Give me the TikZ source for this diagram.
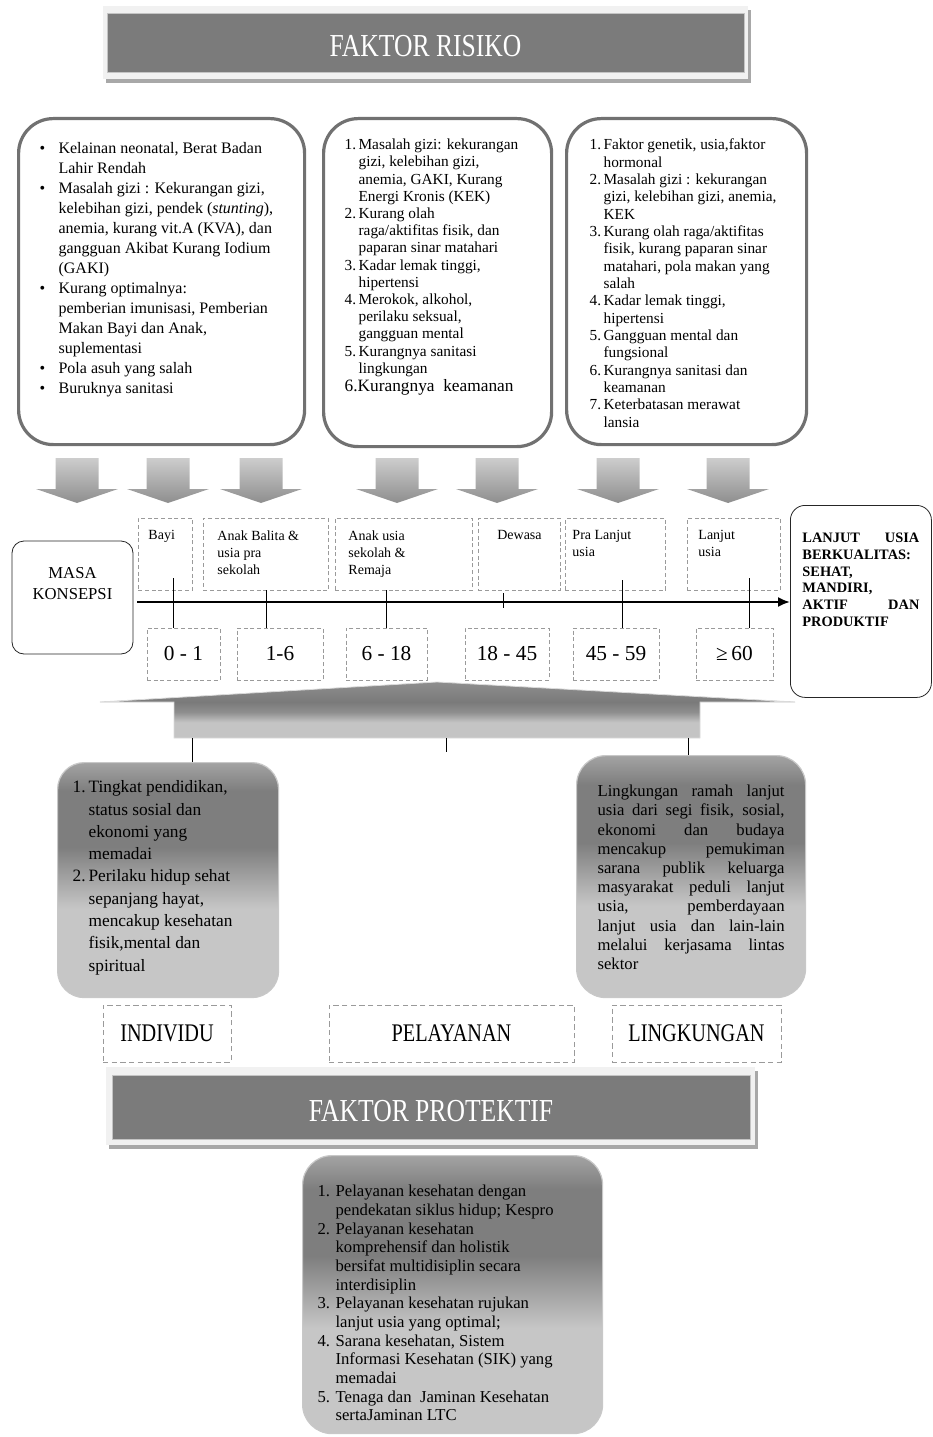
\documentclass[tikz,border=0pt]{standalone}
\usepackage{fontspec}
\setmainfont{Liberation Serif}
\newfontfamily\condfont[FakeStretch=0.8]{Liberation Serif}
\usetikzlibrary{arrows.meta}

\definecolor{titlegray}{HTML}{7B7B7B}
\definecolor{titlerim}{HTML}{C4C4C4}
\definecolor{framegray}{HTML}{F1F1F1}
\definecolor{shadowgray}{HTML}{A8A8A8}
\definecolor{riskline}{HTML}{717171}
\definecolor{dashgray}{HTML}{9A9A9A}
\definecolor{rimgray}{HTML}{C8C8C8}
\definecolor{shL}{HTML}{C6C6C6}
\definecolor{shD}{HTML}{7E7E7E}
\definecolor{shT}{HTML}{A3A3A3}
\definecolor{upL}{HTML}{C4C4C4}
\definecolor{upM}{HTML}{8F8F8F}
\definecolor{upD}{HTML}{7A7A7A}
\definecolor{upT}{HTML}{8E8E8E}
\definecolor{upedge}{HTML}{DADADA}
\definecolor{arrtop}{HTML}{CDCDCD}
\definecolor{arrbot}{HTML}{8E8E8E}

\pgfdeclareverticalshading{boxshade}{100bp}{color(0bp)=(shL); color(25bp)=(shL); color(44bp)=(shL); color(57bp)=(shD); color(69bp)=(shD); color(75bp)=(shT); color(100bp)=(shT)}
\pgfdeclareverticalshading{upshade}{100bp}{color(0bp)=(upL); color(25bp)=(upL); color(39bp)=(upL); color(48bp)=(upM); color(57bp)=(upD); color(75bp)=(upT); color(100bp)=(upT)}

\setlength{\parskip}{0pt}
\newlength{\itmind}
\newcommand{\itm}[2]{\par\noindent\hangindent=\itmind\hangafter=1\makebox[\itmind][l]{#1}#2\par}
\newcommand{\jline}[1]{\makebox[\linewidth][s]{#1}\par}

\tikzstyle{riskbox} = [rectangle, rounded corners=26pt, draw=riskline, line width=2.4pt, fill=white, anchor=north west, inner ysep=0pt]
\tikzstyle{stagebox} = [rectangle, draw=dashgray, dash pattern=on 3pt off 2pt, line width=0.7pt, anchor=north west, inner ysep=0pt, font=\fontsize{10.5}{12.75}\selectfont]
\tikzstyle{agebox} = [rectangle, draw=dashgray, dash pattern=on 3pt off 2pt, line width=0.7pt, minimum height=39pt, inner sep=0pt, font=\fontsize{16}{18}\selectfont]
\tikzstyle{labelbox} = [rectangle, draw=dashgray, dash pattern=on 4pt off 2.5pt, line width=0.7pt, minimum height=42.75pt, inner sep=0pt, font=\condfont\fontsize{19}{21}\selectfont]
\tikzstyle{shadebox} = [rectangle, shade, shading=boxshade, draw=rimgray, line width=0.9pt, anchor=north west, inner ysep=0pt]
\tikzstyle{titlebar} = [rectangle, fill=titlegray, draw=titlerim, line width=0.6pt, text=white, inner sep=0pt, text height=21pt, text depth=0pt, font=\condfont\fontsize{24}{26}\selectfont]
\tikzstyle{endbox} = [rectangle, rounded corners=9pt, draw=black!85, line width=0.6pt]
\tikzstyle{tickline} = [black, line width=0.75pt]
\tikzstyle{timeline} = [black, line width=1.5pt, -{Latex[length=9pt,width=7.5pt]}]

\begin{document}
\begin{tikzpicture}[x=0.75pt, y=-0.75pt]
\useasboundingbox (0,0) rectangle (932,1437);

% faktor risiko
\fill[shadowgray] (106,10) rectangle (751,83);
\fill[framegray] (103,6) rectangle (748,79);
\node[titlebar, minimum width=477.75pt, minimum height=44.25pt] (risiko) at (425.5,42.5) {FAKTOR RISIKO};

\node[riskbox, inner xsep=15.75pt, font=\fontsize{12}{15}\selectfont] (risk1) at (17,117) {\parbox[t][244.5pt][t]{183pt}{\vspace*{18pt}\setlength{\itmind}{14.25pt}%
\itm{\textbullet}{Kelainan neonatal, Berat Badan\\Lahir Rendah}%
\itm{\textbullet}{Masalah gizi : Kekurangan gizi,\\kelebihan gizi, pendek (\textit{stunting}),\\anemia, kurang vit.A (KVA), dan\\gangguan Akibat Kurang Iodium\\(GAKI)}%
\itm{\textbullet}{Kurang optimalnya:\\pemberian imunisasi, Pemberian\\Makan Bayi dan Anak,\\suplementasi}%
\itm{\textbullet}{Pola asuh yang salah}%
\itm{\textbullet}{Buruknya sanitasi}}};

\node[riskbox, inner xsep=15.75pt, font=\fontsize{11.5}{12.9}\selectfont] (risk2) at (322,117) {\parbox[t][246pt][t]{139.5pt}{\vspace*{15.4pt}\setlength{\itmind}{10.5pt}%
\itm{1.}{Masalah gizi: kekurangan\\gizi, kelebihan gizi,\\anemia, GAKI, Kurang\\Energi Kronis (KEK)}%
\itm{2.}{Kurang olah\\raga/aktifitas fisik, dan\\paparan sinar matahari}%
\itm{3.}{Kadar lemak tinggi,\\hipertensi}%
\itm{4.}{Merokok, alkohol,\\perilaku seksual,\\gangguan mental}%
\itm{5.}{Kurangnya sanitasi\\lingkungan}%
{\fontsize{13}{13.5}\selectfont 6.Kurangnya\ \ keamanan\par}}};

\node[riskbox, inner xsep=17.25pt, font=\fontsize{11.5}{13}\selectfont] (risk3) at (565,117) {\parbox[t][244.5pt][t]{145.5pt}{\vspace*{15.4pt}\setlength{\itmind}{10.5pt}%
\itm{1.}{Faktor genetik, usia,faktor\\hormonal}%
\itm{2.}{Masalah gizi : kekurangan\\gizi, kelebihan gizi, anemia,\\KEK}%
\itm{3.}{Kurang olah raga/aktifitas\\fisik, kurang paparan sinar\\matahari, pola makan yang\\salah}%
\itm{4.}{Kadar lemak tinggi,\\hipertensi}%
\itm{5.}{Gangguan mental dan\\fungsional}%
\itm{6.}{Kurangnya sanitasi dan\\keamanan}%
\itm{7.}{Keterbatasan merawat\\lansia}}};

\foreach \ax in {77,168,261,397,497,618,728}
  \shade[top color=arrtop, bottom color=arrbot] (\ax-21.5,458) -- (\ax+21.5,458) -- (\ax+21.5,489) -- (\ax+41,489) -- (\ax,503) -- (\ax-41,489) -- (\ax-21.5,489) -- cycle;

% tahapan usia
\node[stagebox, inner xsep=7.5pt] (bayi) at (138,518) {\parbox[t][54pt][t]{25.5pt}{\vspace*{9pt}Bayi}};
\node[stagebox, inner xsep=10.5pt] (balita) at (203,518) {\parbox[t][54pt][t]{72.75pt}{\vspace*{9pt}Anak Balita \&\\usia pra\\sekolah}};
\node[stagebox, inner xsep=9.75pt] (sekolah) at (335,518) {\parbox[t][54pt][t]{83.25pt}{\vspace*{9pt}Anak usia\\sekolah \&\\Remaja}};
\node[stagebox, inner xsep=11.25pt] (dewasa) at (478,518) {\parbox[t][54pt][t]{39pt}{\vspace*{9pt}\centering Dewasa}};
\node[stagebox, inner xsep=5.25pt] (pralansia) at (565,518) {\parbox[t][54pt][t]{64.5pt}{\vspace*{9pt}Pra Lanjut\\usia}};
\node[stagebox, inner xsep=8.25pt] (lansia) at (687,518) {\parbox[t][54pt][t]{53.25pt}{\vspace*{9pt}Lanjut\\usia}};

\node[agebox, minimum width=54.75pt] (r01) at (183.5,654) {0 - 1};
\node[agebox, minimum width=64.5pt] (r16) at (280,654) {1-6};
\node[agebox, minimum width=60.75pt] (r618) at (386.5,654) {6 - 18};
\node[agebox, minimum width=63pt] (r1845) at (507,654) {18 - 45};
\node[agebox, minimum width=64.5pt] (r4559) at (616,654) {45 - 59};
\node[agebox, minimum width=57.75pt] (r60) at (734.5,654) {≥\,60};

\node[endbox, minimum width=90.75pt, minimum height=84.75pt, align=center, font=\fontsize{12.5}{15.75}\selectfont] (masa) at (72.5,597.5) {MASA\\KONSEPSI\\\strut};
\node[endbox, rounded corners=11pt, anchor=north west, inner xsep=9pt, inner ysep=0pt, font=\bfseries\fontsize{10.8}{12.5}\selectfont] (lanjut) at (790,505) {\parbox[t][144pt][t]{87.75pt}{\vspace*{21pt}\jline{LANJUT USIA}BERKUALITAS:\par SEHAT,\par MANDIRI,\par\jline{AKTIF DAN}PRODUKTIF}};

\coordinate (tl0) at (137,602);
\draw[timeline] (tl0) -- (lanjut.west |- tl0);
\coordinate (k1) at (173,578);
\coordinate (k2) at (266,590);
\coordinate (k3) at (386,590);
\coordinate (k4) at (503,593);
\coordinate (k5) at (622,580);
\coordinate (k6) at (749,578);
\draw[tickline] (k1) -- (k1 |- r01.north);
\draw[tickline] (k2) -- (k2 |- r16.north);
\draw[tickline] (k3) -- (k3 |- r618.north);
\draw[tickline] (k4) -- ++(0,15);
\draw[tickline] (k5) -- (k5 |- r4559.north);
\draw[tickline] (k6) -- (k6 |- r60.north);

% panah faktor protektif
\shade[shading=upshade, draw=upedge, line width=0.6pt] (100,702) -- (437,682) -- (795,702) -- (700,702) -- (700,738) -- (174,738) -- (174,702) -- cycle;

\node[shadebox, rounded corners=20pt, inner xsep=11.25pt, font=\fontsize{13}{16.7}\selectfont] (indiv) at (57,762) {\parbox[t][176.25pt][t]{143.25pt}{\vspace*{13.7pt}\setlength{\itmind}{12pt}%
\itm{1.}{Tingkat pendidikan,\\status sosial dan\\ekonomi yang\\memadai}%
\itm{2.}{Perilaku hidup sehat\\sepanjang hayat,\\mencakup kesehatan\\fisik,mental dan\\spiritual}}};

\node[shadebox, rounded corners=22pt, inner xsep=15.75pt, font=\fontsize{12.5}{14.4}\selectfont] (lingk) at (576,755) {\parbox[t][181.5pt][t]{140.25pt}{\vspace*{22.2pt}%
\jline{Lingkungan ramah lanjut}%
\jline{usia dari segi fisik, sosial,}%
\jline{ekonomi dan budaya}%
\jline{mencakup pemukiman}%
\jline{sarana publik keluarga}%
\jline{masyarakat peduli lanjut}%
\jline{usia, pemberdayaan}%
\jline{lanjut usia dan lain-lain}%
\jline{melalui kerjasama lintas}%
sektor}};

\coordinate (upL) at (192,738);
\coordinate (upM) at (446,738);
\coordinate (upR) at (688,738);
\draw[tickline] (upL) -- (upL |- indiv.north);
\draw[tickline] (upM) -- ++(0,14);
\draw[tickline] (upR) -- (upR |- lingk.north);

\node[labelbox, minimum width=96pt] (lblind) at (167,1033.5) {INDIVIDU};
\node[labelbox, minimum width=183.75pt] (lblpel) at (451.5,1033.5) {PELAYANAN};
\node[labelbox, minimum width=126.75pt] (lbllin) at (696.5,1033.5) {LINGKUNGAN};

% faktor protektif
\fill[shadowgray] (109,1071) rectangle (758,1149);
\fill[framegray] (106,1067) rectangle (755,1145);
\node[titlebar, minimum width=478.5pt, minimum height=48pt] (protektif) at (431,1107) {FAKTOR PROTEKTIF};

\node[shadebox, rounded corners=22pt, inner xsep=11.25pt, font=\fontsize{12.5}{14}\selectfont] (prot) at (302,1155) {\parbox[t][208.5pt][t]{202.5pt}{\vspace*{22.2pt}\setlength{\itmind}{13.5pt}%
\itm{1.}{Pelayanan kesehatan dengan\\pendekatan siklus hidup; Kespro}%
\itm{2.}{Pelayanan kesehatan\\komprehensif dan holistik\\bersifat multidisiplin secara\\interdisiplin}%
\itm{3.}{Pelayanan kesehatan rujukan\\lanjut usia yang optimal;}%
\itm{4.}{Sarana kesehatan, Sistem\\Informasi Kesehatan (SIK) yang\\memadai}%
\itm{5.}{Tenaga dan\ \ Jaminan Kesehatan\\sertaJaminan LTC}}};
\end{tikzpicture}
\end{document}
